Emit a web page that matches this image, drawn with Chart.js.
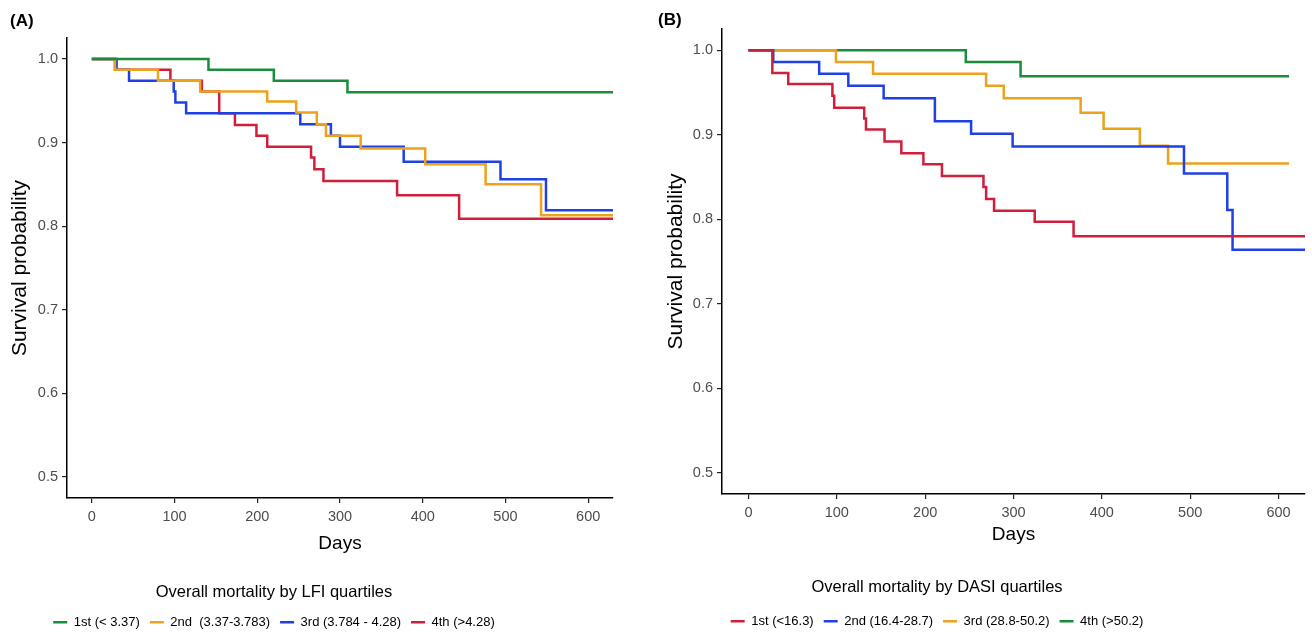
<!DOCTYPE html>
<html>
<head>
<meta charset="utf-8">
<title>Overall mortality by LFI and DASI quartiles</title>
<script src="https://cdn.jsdelivr.net/npm/chart.js@4.4.1/dist/chart.umd.min.js"></script>
<style>
  html, body { margin: 0; padding: 0; background: #fff; }
  #wrap { position: relative; width: 1312px; height: 634px; }
  canvas { position: absolute; top: 0; }
  #chartA { left: 0; }
  #chartB { left: 650px; }
</style>
</head>
<body>
<div id="wrap">
  <canvas id="chartA" width="650" height="634"></canvas>
  <canvas id="chartB" width="662" height="634"></canvas>
</div>
<script>
/* Data */
const dayTicks = [0, 100, 200, 300, 400, 500, 600];
const survTicks = [0.5, 0.6, 0.7, 0.8, 0.9, 1.0];

// (A) LFI quartiles
const lfiLabels = ['1st (< 3.37)', '2nd  (3.37-3.783)', '3rd (3.784 - 4.28)', '4th (>4.28)'];
const lfi1Days = [0, 141, 220, 309, 630];
const lfi1Surv = [1, 0.987, 0.974, 0.960, 0.960];
const lfi2Days = [0, 28, 80, 131, 212, 247, 272, 283, 325, 403, 476, 543, 630];
const lfi2Surv = [1, 0.987, 0.974, 0.961, 0.949, 0.936, 0.922, 0.908, 0.893, 0.874, 0.850, 0.813, 0.813];
const lfi3Days = [0, 30, 45, 99, 101, 114, 252, 289, 300, 377, 494, 549, 630];
const lfi3Surv = [1, 0.987, 0.974, 0.961, 0.948, 0.935, 0.922, 0.908, 0.895, 0.877, 0.856, 0.819, 0.819];
const lfi4Days = [0, 28, 95, 133, 154, 173, 199, 212, 265, 269, 280, 369, 444, 630];
const lfi4Surv = [1, 0.987, 0.974, 0.961, 0.935, 0.921, 0.908, 0.895, 0.882, 0.868, 0.854, 0.837, 0.809, 0.809];

// (B) DASI quartiles
const dasiLabels = ['1st (<16.3)', '2nd (16.4-28.7)', '3rd (28.8-50.2)', '4th (>50.2)'];
const dasi1Days = [0, 27, 45, 95, 97, 131, 133, 154, 173, 198, 219, 266, 269, 278, 324, 368, 630];
const dasi1Surv = [1, 0.973, 0.960, 0.946, 0.932, 0.919, 0.906, 0.892, 0.878, 0.865, 0.851, 0.838, 0.824, 0.810, 0.797, 0.780, 0.780];
const dasi2Days = [0, 28, 80, 113, 153, 211, 252, 299, 493, 542, 548, 630];
const dasi2Surv = [1, 0.986, 0.972, 0.958, 0.943, 0.916, 0.901, 0.886, 0.854, 0.811, 0.764, 0.764];
const dasi3Days = [0, 99, 141, 269, 289, 376, 402, 443, 475, 612];
const dasi3Surv = [1, 0.986, 0.972, 0.958, 0.943, 0.926, 0.907, 0.887, 0.866, 0.866];
const dasi4Days = [0, 246, 308, 612];
const dasi4Surv = [1, 0.986, 0.969, 0.969];

/* Styles */
const green = '#1a8c3c', orange = '#eca21c', blue = '#1f40e4', red = '#cf1f3c';
const fontFamily = "'Liberation Sans', Arial, Helvetica, sans-serif";
Chart.defaults.font.family = fontFamily;
Chart.defaults.color = '#000';

// moves the bottom legend so its items are centred on a given x
const legendShift = {
    id: 'legendShift',
    afterLayout(chart, args, opts) {
        const lg = chart.legend;
        if (!lg || opts.center == null) return;
        const w = lg.right - lg.left;
        lg.left = opts.center - w / 2;
        lg.right = opts.center + w / 2;
    }
};

function series(label, days, surv, color) {
    return {
        label: label,
        data: days.map((d, i) => ({ x: d, y: surv[i] })),
        borderColor: color,
        backgroundColor: color,
        borderWidth: 2.5,
        stepped: 'before',
        pointRadius: 0,
        pointHoverRadius: 0,
        fill: false
    };
}

function kmChart(canvasId, datasets, p) {
    return new Chart(document.getElementById(canvasId).getContext('2d'), {
        type: 'line',
        data: { datasets: datasets },
        plugins: [legendShift],
        options: {
            responsive: false,
            animation: false,
            layout: { padding: { left: p.padLeft, right: p.padRight, top: 0, bottom: 0 } },
            scales: {
                x: {
                    type: 'linear',
                    min: -30,
                    max: 630,
                    afterBuildTicks: s => { s.ticks = dayTicks.map(v => ({ value: v })); },
                    afterFit: s => { s.height = p.xAxisH; },
                    grid: { drawOnChartArea: false, drawTicks: true, tickLength: 5, color: '#222', lineWidth: 1.2 },
                    border: { display: true, color: '#000', width: 1.5 },
                    ticks: { color: '#4d4d4d', font: { size: 14.5 }, padding: 5, maxRotation: 0, callback: v => String(v) },
                    title: { display: true, text: 'Days', color: '#000', font: { size: 19 }, padding: { top: 0, bottom: p.daysGap } }
                },
                y: {
                    type: 'linear',
                    min: 0.475,
                    max: 1.025,
                    afterBuildTicks: s => { s.ticks = survTicks.map(v => ({ value: v })); },
                    afterFit: s => { s.width = p.yAxisW; },
                    grid: { drawOnChartArea: false, drawTicks: true, tickLength: 5, color: '#222', lineWidth: 1.2 },
                    border: { display: true, color: '#000', width: 1.5 },
                    ticks: { color: '#4d4d4d', font: { size: 14.5 }, padding: 4, callback: v => v.toFixed(1) },
                    title: { display: true, text: 'Survival probability', color: '#000', font: { size: 21, lineHeight: 1 }, padding: { top: p.yTitleGap, bottom: 0 } }
                }
            },
            plugins: {
                title: {
                    display: true,
                    text: p.panel,
                    align: 'start',
                    color: '#000',
                    font: { size: 17, weight: 'bold', lineHeight: 1 },
                    padding: { top: p.panelTop, bottom: p.panelBottom }
                },
                legend: {
                    position: 'bottom',
                    maxHeight: p.legendH,
                    labels: {
                        usePointStyle: true,
                        pointStyle: 'line',
                        pointStyleWidth: 14,
                        padding: 10,
                        color: '#000',
                        font: { size: 13 }
                    },
                    title: {
                        display: true,
                        text: p.legendTitle,
                        color: '#000',
                        font: { size: 16.5 },
                        padding: { top: 0, bottom: p.legendTitleGap }
                    }
                },
                legendShift: { center: p.legendCenter },
                tooltip: { enabled: false }
            }
        }
    });
}

const chartA = kmChart('chartA', [
    series(lfiLabels[0], lfi1Days, lfi1Surv, green),
    series(lfiLabels[1], lfi2Days, lfi2Surv, orange),
    series(lfiLabels[2], lfi3Days, lfi3Surv, blue),
    series(lfiLabels[3], lfi4Days, lfi4Surv, red)
], {
    panel: '(A)', padLeft: 10, padRight: 37, yAxisW: 57, yTitleGap: 0,
    panelTop: 13, panelBottom: 8, xAxisH: 86, daysGap: 29, legendH: 50,
    legendTitle: 'Overall mortality by LFI quartiles', legendTitleGap: 2, legendCenter: 274
});

const chartB = kmChart('chartB', [
    series(dasiLabels[0], dasi1Days, dasi1Surv, red),
    series(dasiLabels[1], dasi2Days, dasi2Surv, blue),
    series(dasiLabels[2], dasi3Days, dasi3Surv, orange),
    series(dasiLabels[3], dasi4Days, dasi4Surv, green)
], {
    panel: '(B)', padLeft: 8, padRight: 7, yAxisW: 64, yTitleGap: 8,
    panelTop: 12, panelBottom: 0, xAxisH: 85, daysGap: 33, legendH: 55,
    legendTitle: 'Overall mortality by DASI quartiles', legendTitleGap: 6, legendCenter: 287
});
</script>
</body>
</html>
